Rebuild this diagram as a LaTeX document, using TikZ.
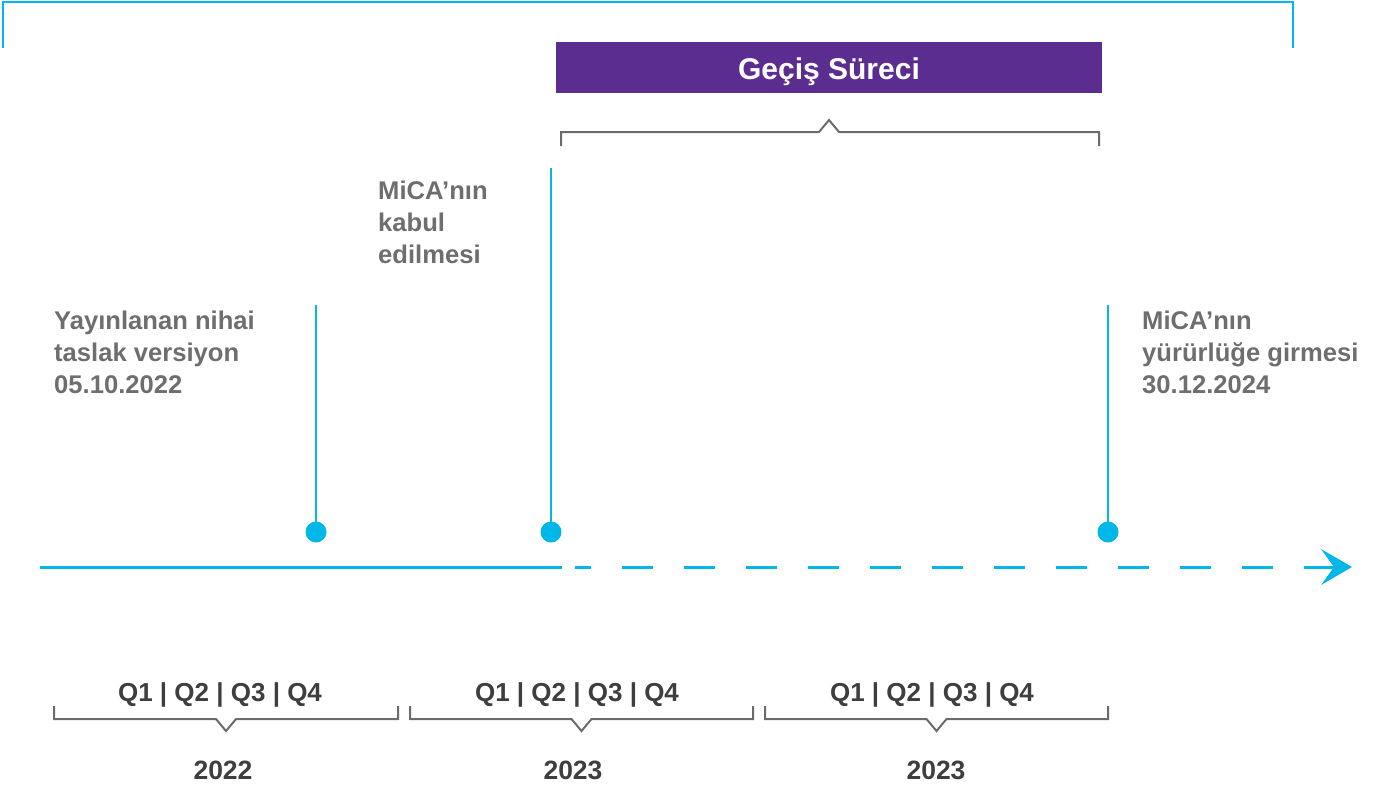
\documentclass[tikz,border=0pt]{standalone}
\usepackage{fontspec}
\setmainfont{Liberation Sans}
\definecolor{cy}{HTML}{00B7E8}
\definecolor{pur}{HTML}{5C2D91}
\definecolor{gtxt}{HTML}{6D6E70}
\definecolor{dtxt}{HTML}{3E3E3E}
\definecolor{brk}{HTML}{6B6B6D}
\tikzset{
  lbl/.style={font=\bfseries\fontsize{25.6}{32}\selectfont, text=gtxt, align=left, inner sep=0pt, anchor=base west},
  qlbl/.style={font=\bfseries\fontsize{26}{30}\selectfont, text=dtxt, inner sep=0pt, anchor=base},
  ylbl/.style={font=\bfseries\fontsize{26.5}{30}\selectfont, text=dtxt, inner sep=0pt, anchor=base},
  cyline/.style={draw=cy, line width=2.5pt},
  dot/.style={circle, fill=cy, minimum size=21pt, inner sep=0pt},
  brkline/.style={draw=brk, line width=2pt},
}
\begin{document}
\begin{tikzpicture}[x=1pt,y=-1pt]
\useasboundingbox (0,0) rectangle (1376,787);
% top cyan bracket
\draw[cyline] (3,48) -- (3,2) -- (1293,2) -- (1293,48);
% purple box
\node[fill=pur, minimum width=546pt, minimum height=51pt, inner sep=0pt, anchor=north west] (box) at (556,42) {};
\node[font=\bfseries\fontsize{30}{32}\selectfont, text=white, inner sep=0pt, anchor=base] (boxt) at (829,79) {Geçiş Süreci};
% gray bracket under box
\draw[brkline] (561,146) -- (561,132) -- (819,132) -- (829,120) -- (839,132) -- (1099,132) -- (1099,146);
% timeline
\coordinate (t0) at (40,567);
\coordinate (t1) at (562,567);
\coordinate (t2) at (575,567);
\coordinate (t3) at (1334,567);
\draw[cyline, line width=3pt] (t0) -- (t1);
\draw[cyline, line width=3pt, dash pattern=on 31pt off 31pt, dash phase=15pt] (t2) -- (t3);
\coordinate (tip) at (1352,567);
\fill[cy] (tip) -- (1321,549) -- (t3) -- (1321,585) -- cycle;
% events
\node[dot] (d1) at (316,532) {};
\node[dot] (d2) at (551,532) {};
\node[dot] (d3) at (1108,532) {};
\coordinate (v1) at (316,305);
\coordinate (v2) at (551,168);
\coordinate (v3) at (1108,305);
\draw[cyline] (v1) -- (d1.center);
\draw[cyline] (v2) -- (d2.center);
\draw[cyline] (v3) -- (d3.center);
% labels (base anchor = last line)
\node[lbl] (l1) at (54,393) {Yayınlanan nihai\\taslak versiyon\\05.10.2022};
\node[lbl] (l2) at (378,263) {MiCA’nın\\kabul\\edilmesi};
\node[lbl] (l3) at (1142,393) {MiCA’nın\\yürürlüğe girmesi\\30.12.2024};
% bottom brackets
\foreach \a/\b/\n in {54/398/1, 410/753/2, 765/1108/3}{
  \pgfmathsetmacro{\c}{(\a+\b)/2}
  \draw[brkline] (\a,706) -- (\a,719) -- (\c-10,719) -- (\c,731) -- (\c+10,719) -- (\b,719) -- (\b,706);
}
\node[qlbl] (q1) at (220,701) {Q1 | Q2 | Q3 | Q4};
\node[qlbl] (q2) at (577,701) {Q1 | Q2 | Q3 | Q4};
\node[qlbl] (q3) at (932,701) {Q1 | Q2 | Q3 | Q4};
\node[ylbl] (y1) at (223,779) {2022};
\node[ylbl] (y2) at (573,779) {2023};
\node[ylbl] (y3) at (936,779) {2023};
\end{tikzpicture}
\end{document}
